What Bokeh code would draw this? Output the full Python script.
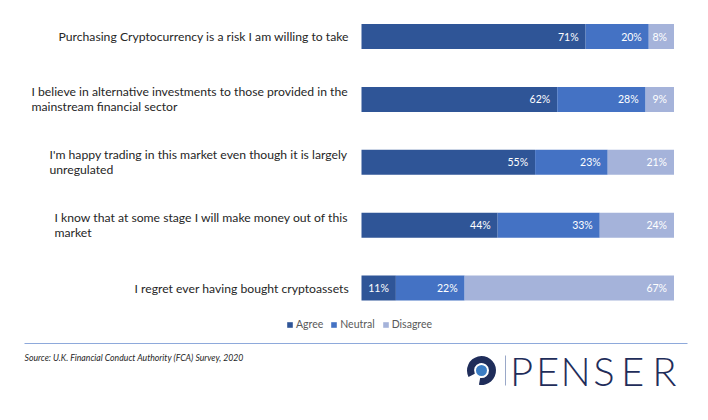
from bokeh.plotting import figure
from bokeh.models import Range1d, ColumnDataSource, Legend, LegendItem
from bokeh.core.properties import value
from bokeh.embed import file_html
from bokeh.resources import INLINE

# ---- data ----
statements = [
    "Purchasing Cryptocurrency is a risk I am willing to take",
    "I believe in alternative investments to those provided in the\nmainstream financial sector",
    "I'm happy trading in this market even though it is largely\nunregulated",
    "I know that at some stage I will make money out of this\nmarket",
    "I regret ever having bought cryptoassets",
]
agree = [71, 62, 55, 44, 11]
neutral = [20, 28, 23, 33, 22]
disagree = [8, 9, 21, 24, 67]
series_names = ["Agree", "Neutral", "Disagree"]
source_note = "Source: U.K. Financial Conduct Authority (FCA) Survey, 2020"
brand = "PENSER"

colors = ["#2F5597", "#4472C4", "#A5B3DA"]

# ---- layout (pixels within the figure) ----
W, H = 692, 404
X0 = 361.0        # px of 0%
PX_PCT = 3.125    # px per percent
Y0 = 36.0         # px of first row center
ROW = 62.9        # px per row
label_left_px = [58, 31, 49, 54, 134]
brand_letter_px = [521, 547, 575, 603.5, 632, 664]

def xpx(px):
    return (px - X0) / PX_PCT

def ypx(py):
    return (py - Y0) / ROW

p = figure(width=W, height=H, output_backend="svg", toolbar_location=None,
           x_range=Range1d(-X0 / PX_PCT, (W - X0) / PX_PCT),
           y_range=Range1d((H - Y0) / ROW, -Y0 / ROW),
           min_border=0, min_border_left=0, min_border_right=0,
           min_border_top=0, min_border_bottom=0)
p.axis.visible = False
p.grid.visible = False
p.outline_line_color = None
p.background_fill_color = "white"
p.border_fill_color = "white"

rows = list(range(len(statements)))
totals = [a + n + d for a, n, d in zip(agree, neutral, disagree)]
series = [agree, neutral, disagree]
left = [0.0] * len(rows)
renderers = []
for name, vals, col in zip(series_names, series, colors):
    pct = [v / t * 100 for v, t in zip(vals, totals)]
    right = [l + q for l, q in zip(left, pct)]
    src = ColumnDataSource(dict(y=rows, left=left, right=right,
                                lbl=[f"{v}%" for v in vals]))
    r = p.hbar(y="y", left="left", right="right", height=25 / ROW, source=src,
               fill_color=col, line_color=None)
    renderers.append(r)
    p.text(x="right", y="y", text="lbl", source=src, x_offset=-7,
           text_align="right", text_baseline="middle", text_color="white",
           text_font=value("Lato"), text_font_size="10.5px")
    left = right

# category labels
cat_src = ColumnDataSource(dict(y=rows, x=[xpx(v) for v in label_left_px], t=statements))
p.text(x="x", y="y", text="t", source=cat_src, text_align="left",
       text_baseline="middle", text_color="#262626", text_font=value("Lato"),
       text_font_size="12.2px", text_line_height=1.0)

legend = Legend(items=[LegendItem(label=n, renderers=[r]) for n, r in zip(series_names, renderers)],
                orientation="horizontal", location=(286, 74),
                glyph_width=7, glyph_height=7, label_standoff=3, spacing=7,
                padding=0, margin=0, border_line_color=None,
                background_fill_alpha=0, label_text_font="Lato",
                label_text_font_size="10.5px", label_text_color="#595959",
                label_height=12)
p.add_layout(legend, "center")

# separator
p.segment(x0=[xpx(24)], y0=[ypx(343)], x1=[xpx(687)], y1=[ypx(343)],
          line_color="#8EA9DB", line_width=1.2)

p.text(x=[xpx(24)], y=[ypx(357)], text=[source_note], text_align="left",
       text_baseline="middle", text_color="#262626", text_font=value("Lato"),
       text_font_size="8.7px", text_font_style="italic")

# logo
cx, cy = xpx(481), ypx(370)
p.annular_wedge(x=[cx], y=[cy], inner_radius=7.5, outer_radius=14.5,
                inner_radius_units="screen", outer_radius_units="screen",
                start_angle=-1.75, end_angle=3.6, direction="anticlock",
                fill_color="#1F2D5A", line_color=None)
p.scatter(x=[cx], y=[cy], size=11, marker="circle", fill_color="#3B7DC4", line_color=None)
p.segment(x0=[xpx(505)], y0=[ypx(355)], x1=[xpx(505)], y1=[ypx(385)],
          line_color="#9AA8C8", line_width=1)
p.text(x=[xpx(v) for v in brand_letter_px], y=[ypx(370)] * len(brand), text=list(brand),
       text_align="center", text_baseline="middle", text_color="#1F2D5A",
       text_font=value("Lato Light"), text_font_size="40px")

open("out.html", "w").write(file_html(p, INLINE))
